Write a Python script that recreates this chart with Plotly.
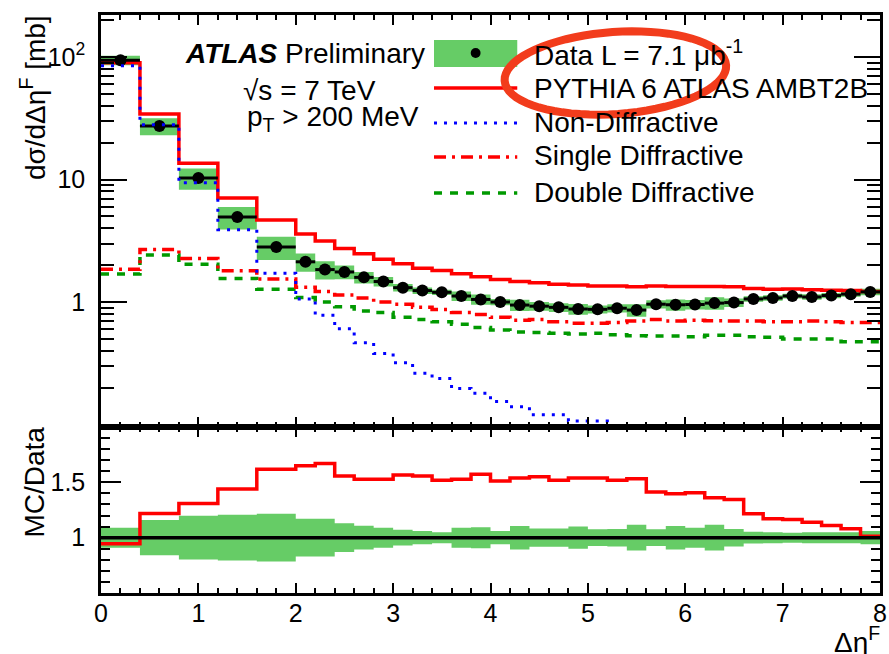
import numpy as np
import plotly.graph_objects as go

# ---------------- data ----------------
bin_edges = [0.0, 0.4, 0.8, 1.2, 1.6, 2.0, 2.2, 2.4, 2.6, 2.8, 3.0, 3.2, 3.4, 3.6, 3.8,
             4.0, 4.2, 4.4, 4.6, 4.8, 5.0, 5.2, 5.4, 5.6, 5.8, 6.0, 6.2, 6.4, 6.6, 6.8,
             7.0, 7.2, 7.4, 7.6, 7.8, 8.0]

data_vals = [94, 27.3, 10.3, 4.94, 2.81, 2.13, 1.84, 1.76, 1.59, 1.47, 1.31, 1.24, 1.20,
             1.12, 1.05, 1.0, 0.945, 0.925, 0.905, 0.877, 0.872, 0.89, 0.86, 0.96, 0.95,
             0.955, 0.98, 0.99, 1.06, 1.08, 1.12, 1.10, 1.13, 1.16, 1.21]

data_rel_err = [0.09, 0.16, 0.197, 0.207, 0.216, 0.17, 0.17, 0.13, 0.108, 0.09, 0.071,
                0.06, 0.05, 0.09, 0.095, 0.06, 0.106, 0.082, 0.082, 0.10, 0.076, 0.079,
                0.117, 0.076, 0.106, 0.09, 0.117, 0.079, 0.053, 0.05, 0.045, 0.05, 0.05,
                0.05, 0.06]

pythia = [90, 34.3, 13.6, 7.06, 4.67, 3.6, 3.15, 2.74, 2.48, 2.24, 2.05, 1.89, 1.81, 1.70,
          1.61, 1.53, 1.47, 1.44, 1.40, 1.38, 1.35, 1.35, 1.33, 1.35, 1.34, 1.34, 1.34,
          1.33, 1.29, 1.27, 1.28, 1.26, 1.25, 1.24, 1.22]

non_diffractive = [85, 28, 9.4, 3.9, 1.72, 1.06, 0.78, 0.605, 0.465, 0.38, 0.32, 0.262,
                   0.238, 0.197, 0.18, 0.154, 0.14, 0.12, 0.12, 0.107, 0.107, 0.093, 0.09,
                   0.088, 0.085, 0.082, 0.08, 0.078, 0.075, 0.073, 0.07, 0.068, 0.066,
                   0.064, 0.062]

single_diffractive = [1.85, 2.69, 2.27, 1.80, 1.54, 1.32, 1.22, 1.14, 1.08, 1.0, 0.96, 0.905,
                      0.87, 0.82, 0.79, 0.75, 0.71, 0.72, 0.69, 0.67, 0.67, 0.68, 0.70, 0.72,
                      0.70, 0.71, 0.705, 0.70, 0.70, 0.69, 0.69, 0.70, 0.69, 0.68, 0.68]

double_diffractive = [1.69, 2.42, 2.03, 1.56, 1.27, 1.09, 1.0, 0.915, 0.845, 0.82, 0.75,
                      0.72, 0.69, 0.66, 0.62, 0.59, 0.57, 0.565, 0.555, 0.548, 0.555, 0.54,
                      0.53, 0.528, 0.528, 0.52, 0.535, 0.535, 0.52, 0.515, 0.50, 0.50, 0.50,
                      0.475, 0.474]

ratio_mc_data = [0.945, 1.218, 1.309, 1.44, 1.618, 1.65, 1.67, 1.557, 1.527, 1.527, 1.567,
                 1.557, 1.518, 1.527, 1.573, 1.512, 1.54, 1.55, 1.518, 1.54, 1.54, 1.518,
                 1.533, 1.412, 1.397, 1.406, 1.36, 1.345, 1.215, 1.17, 1.164, 1.14, 1.11,
                 1.08, 1.012]

x_ticks = [0, 1, 2, 3, 4, 5, 6, 7, 8]
y_main_ticks = [1, 10, 100]
y_main_labels = ["1", "10", "10<sup>2</sup>"]
y_ratio_ticks = [1, 1.5]
y_ratio_labels = ["1", "1.5"]

legend_labels = ["Data L = 7.1 \u03bcb<sup>-1</sup>", "PYTHIA 6 ATLAS AMBT2B",
                 "Non-Diffractive", "Single Diffractive", "Double Diffractive"]

# ---------------- styles / geometry ----------------
W, H = 889, 654
ML, MR, MT, MB = 101, 2, 15, 61
PW, PH = W - ML - MR, H - MT - MB
FONT = "Liberation Sans, Arial, Helvetica, sans-serif"
GREEN_BAND = "#66cc66"
RED = "#ff0000"
BLUE = "#0000ff"
DGREEN = "#009900"
TXT = 28


def px(x):
    return (x - ML) / PW


def py(y):
    return (H - MB - y) / PH


split = py(427)

edges = np.array(bin_edges)
centers = (edges[:-1] + edges[1:]) / 2
halfw = (edges[1:] - edges[:-1]) / 2
dv = np.array(data_vals)
er = np.array(data_rel_err)


def step(v):
    v = list(v)
    return v + [v[-1]]


fig = go.Figure()

# top panel: data uncertainty band
fig.add_trace(go.Scatter(x=edges, y=step(dv * (1 - er)), mode="lines",
                         line=dict(width=0, shape="hv"), hoverinfo="skip",
                         showlegend=False, xaxis="x", yaxis="y"))
fig.add_trace(go.Scatter(x=edges, y=step(dv * (1 + er)), mode="lines",
                         line=dict(width=0, shape="hv"), fill="tonexty",
                         fillcolor=GREEN_BAND, hoverinfo="skip",
                         showlegend=False, xaxis="x", yaxis="y"))

# model curves
fig.add_trace(go.Scatter(x=edges, y=step(double_diffractive), mode="lines",
                         line=dict(color=DGREEN, width=3.5, shape="hv", dash="8px,8px"),
                         showlegend=False, xaxis="x", yaxis="y"))
fig.add_trace(go.Scatter(x=edges, y=step(single_diffractive), mode="lines",
                         line=dict(color=RED, width=3.5, shape="hv", dash="12px,6px,3px,6px"),
                         showlegend=False, xaxis="x", yaxis="y"))
fig.add_trace(go.Scatter(x=edges, y=step(pythia), mode="lines",
                         line=dict(color=RED, width=3.5, shape="hv"),
                         showlegend=False, xaxis="x", yaxis="y"))

# data points
fig.add_trace(go.Scatter(x=centers, y=dv, mode="markers",
                         marker=dict(color="black", size=12),
                         error_x=dict(type="data", array=halfw, color="black",
                                      thickness=3, width=0),
                         cliponaxis=False, showlegend=False, xaxis="x", yaxis="y"))

fig.add_trace(go.Scatter(x=edges, y=step(non_diffractive), mode="lines",
                         line=dict(color=BLUE, width=3, shape="hv", dash="3px,7px"),
                         showlegend=False, xaxis="x", yaxis="y"))

# ratio panel
fig.add_trace(go.Scatter(x=edges, y=step(1 - er), mode="lines",
                         line=dict(width=0, shape="hv"), hoverinfo="skip",
                         showlegend=False, xaxis="x2", yaxis="y2"))
fig.add_trace(go.Scatter(x=edges, y=step(1 + er), mode="lines",
                         line=dict(width=0, shape="hv"), fill="tonexty",
                         fillcolor=GREEN_BAND, hoverinfo="skip",
                         showlegend=False, xaxis="x2", yaxis="y2"))
fig.add_trace(go.Scatter(x=edges, y=step(ratio_mc_data), mode="lines",
                         line=dict(color=RED, width=3.5, shape="hv"),
                         showlegend=False, xaxis="x2", yaxis="y2"))

# empty traces binding the mirror (tick-only) axes
for xa, ya in (("x3", "y"), ("x4", "y2"), ("x", "y3"), ("x2", "y4")):
    fig.add_trace(go.Scatter(x=[], y=[], xaxis=xa, yaxis=ya, showlegend=False,
                             hoverinfo="skip"))

shapes = []
# unity line in the ratio panel
shapes.append(dict(type="line", xref="x2 domain", yref="y2", x0=0, x1=1, y0=1, y1=1,
                   line=dict(color="black", width=3.5), layer="above"))

# ---- hand-made legend ----
shapes.append(dict(type="rect", xref="paper", yref="paper", x0=px(437), x1=px(521),
                   y0=py(67), y1=py(40), fillcolor=GREEN_BAND, line=dict(width=0)))
shapes.append(dict(type="circle", xref="paper", yref="paper", x0=px(474), x1=px(484),
                   y0=py(58), y1=py(48), fillcolor="black", line=dict(width=0)))
leg_rows = [88, 123, 157, 193]
leg_styles = [dict(color=RED, width=3.5), dict(color=BLUE, width=3, dash="3px,7px"),
              dict(color=RED, width=3.5, dash="12px,6px,3px,6px"),
              dict(color=DGREEN, width=3.5, dash="8px,8px")]
for yy, st in zip(leg_rows, leg_styles):
    shapes.append(dict(type="line", xref="paper", yref="paper", x0=px(437), x1=px(521),
                       y0=py(yy), y1=py(yy), line=st))

# ---- red highlight ellipse ----
cx, cy, a, b, rot = 620, 73, 112, 41, np.deg2rad(-4)
t = np.linspace(0, 2 * np.pi, 73)
ex = cx + a * np.cos(t) * np.cos(rot) - b * np.sin(t) * np.sin(rot)
ey = cy + a * np.cos(t) * np.sin(rot) + b * np.sin(t) * np.cos(rot)
path = "M " + " L ".join(f"{px(xx):.5f},{py(yy):.5f}" for xx, yy in zip(ex, ey)) + " Z"
shapes.append(dict(type="path", xref="paper", yref="paper", path=path,
                   line=dict(color="#f23c1c", width=8), layer="above"))

annotations = []
text_rows = [53, 88, 123, 156, 192]
for yy, lab in zip(text_rows, legend_labels):
    annotations.append(dict(x=px(536), y=py(yy), xref="paper", yref="paper", text=lab,
                            xanchor="left", yanchor="middle", showarrow=False,
                            font=dict(family=FONT, size=TXT, color="black")))

annotations.append(dict(x=px(184), y=py(53), xref="paper", yref="paper",
                        text="<b><i>ATLAS</i></b> Preliminary", xanchor="left",
                        yanchor="middle", showarrow=False,
                        font=dict(family=FONT, size=TXT, color="black")))
annotations.append(dict(x=px(242), y=py(90), xref="paper", yref="paper",
                        text="\u221as = 7 TeV", xanchor="left", yanchor="middle",
                        showarrow=False, font=dict(family=FONT, size=TXT, color="black")))
annotations.append(dict(x=px(246), y=py(119), xref="paper", yref="paper",
                        text="p<sub>T</sub> > 200 MeV", xanchor="left", yanchor="middle",
                        showarrow=False, font=dict(family=FONT, size=TXT, color="black")))

# axis titles
annotations.append(dict(x=px(33), y=py(13), xref="paper", yref="paper",
                        text="d\u03c3/d\u0394\u03b7<sup>F</sup> [mb]", textangle=-90,
                        xanchor="center", yanchor="top", showarrow=False,
                        font=dict(family=FONT, size=TXT, color="black")))
annotations.append(dict(x=px(33), y=py(482), xref="paper", yref="paper",
                        text="MC/Data", textangle=-90, xanchor="center", yanchor="middle",
                        showarrow=False, font=dict(family=FONT, size=TXT, color="black")))
annotations.append(dict(x=px(889), y=py(620), xref="paper", yref="paper",
                        text="\u0394\u03b7<sup>F</sup>", xanchor="right", yanchor="top",
                        showarrow=False, font=dict(family=FONT, size=TXT, color="black")))

minor_log = [m * 10.0 ** d for d in (-1, 0, 1, 2) for m in range(2, 10)]

x_minor = dict(dtick=0.2, tick0=0, ticks="inside", ticklen=5, tickwidth=2,
               tickcolor="black", showgrid=False)
common_x = dict(range=[0, 8], tickmode="array", tickvals=x_ticks, ticks="inside",
                ticklen=10, tickwidth=2, tickcolor="black", showgrid=False,
                zeroline=False, minor=x_minor)
frame = dict(showline=True, linewidth=2.5, linecolor="black", mirror=True)

y_log_common = dict(type="log", range=[-1.02, 2.343], tickmode="array",
                    tickvals=y_main_ticks, ticks="inside", ticklen=26, tickwidth=2,
                    tickcolor="black", showgrid=False, zeroline=False,
                    minor=dict(tickmode="array", tickvals=minor_log, ticks="inside",
                               ticklen=13, tickwidth=2, tickcolor="black",
                               showgrid=False))
y_ratio_common = dict(range=[0.5, 2.0], tickmode="array", tickvals=y_ratio_ticks,
                      ticks="inside", ticklen=20, tickwidth=2, tickcolor="black",
                      showgrid=False, zeroline=False,
                      minor=dict(dtick=0.1, tick0=0, ticks="inside", ticklen=9,
                                 tickwidth=2, tickcolor="black", showgrid=False))

fig.update_layout(
    width=W, height=H, margin=dict(l=ML, r=MR, t=MT, b=MB),
    paper_bgcolor="white", plot_bgcolor="white", showlegend=False,
    font=dict(family=FONT, size=25, color="black"),
    xaxis=dict(common_x, **frame, anchor="y", domain=[0, 1], showticklabels=False),
    xaxis2=dict(common_x, **frame, anchor="y2", domain=[0, 1], showticklabels=True,
                tickfont=dict(family=FONT, size=25), ticklabelstandoff=-4,
                ticklabeloverflow="allow"),
    xaxis3=dict(common_x, overlaying="x", anchor="y", side="top", showticklabels=False,
                showline=False),
    xaxis4=dict(common_x, overlaying="x2", anchor="y2", side="top", showticklabels=False,
                showline=False),
    yaxis=dict(y_log_common, **frame, domain=[split, 1], anchor="x",
               ticktext=y_main_labels, tickfont=dict(family=FONT, size=25),
               ticklabelstandoff=8),
    yaxis3=dict(y_log_common, overlaying="y", anchor="x", side="right",
                showticklabels=False, showline=False),
    yaxis2=dict(y_ratio_common, **frame, domain=[0, split], anchor="x2",
                ticktext=y_ratio_labels, tickfont=dict(family=FONT, size=25),
                ticklabelstandoff=8),
    yaxis4=dict(y_ratio_common, overlaying="y2", anchor="x2", side="right",
                showticklabels=False, showline=False),
    shapes=shapes, annotations=annotations,
)

fig.write_html("out.html")
